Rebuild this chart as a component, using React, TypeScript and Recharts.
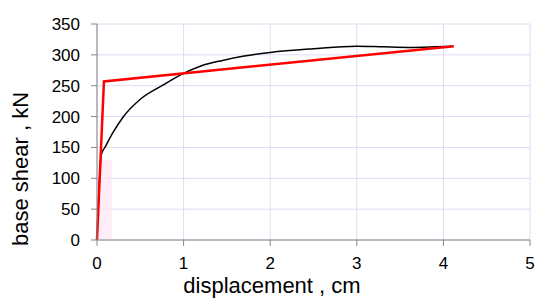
import {
  LineChart,
  Line,
  XAxis,
  YAxis,
  CartesianGrid,
  ReferenceArea,
  Label,
} from "recharts";

const xTicks = [0, 1, 2, 3, 4, 5];
const yTicks = [0, 50, 100, 150, 200, 250, 300, 350];

// pushover curve (black)
const pushoverX = [0, 0.05, 0.1, 0.18, 0.3, 0.5, 0.75, 1.0, 1.2, 1.45, 1.7, 2.0, 2.5, 3.0, 3.3, 3.6, 3.9, 4.1];
const pushoverY = [0, 138, 152, 173, 199, 228, 250, 270, 282, 291, 298, 304, 310, 314, 313, 312, 313, 314];

// bilinear idealisation (red)
const bilinearX = [0, 0.08, 4.12];
const bilinearY = [0, 257, 314];

const pushover = pushoverX.map((x, i) => ({ x, y: pushoverY[i] }));
const bilinear = bilinearX.map((x, i) => ({ x, y: bilinearY[i] }));

const font = "'Liberation Sans', Arial, sans-serif";
const axisColor = "#868686";

export default function App() {
  return (
    <div style={{ position: "absolute", left: 0, top: 0, background: "#fff" }}>
      <LineChart
        width={550}
        height={307}
        margin={{ top: 24, right: 20, bottom: 0, left: 0 }}
      >
        <CartesianGrid stroke="#dcdcf4" strokeWidth={1} />
        <ReferenceArea x1={0.02} x2={0.17} y1={0} y2={130} fill="#fde6f4" fillOpacity={0.7} stroke="none" />
        <XAxis
          type="number"
          dataKey="x"
          domain={[0, 5]}
          ticks={xTicks}
          height={67}
          stroke={axisColor}
          tickSize={6}
          tickMargin={11}
          tick={{ fill: "#000", fontSize: 17, fontFamily: font }}
          allowDuplicatedCategory={false}
        >
          <Label
            content={() => (
              <text x={272} y={293} textAnchor="middle" fontSize={22} fontFamily={font} fill="#000">
                displacement , cm
              </text>
            )}
          />
        </XAxis>
        <YAxis
          type="number"
          dataKey="y"
          domain={[0, 350]}
          ticks={yTicks}
          width={97}
          stroke={axisColor}
          tickSize={6}
          tickMargin={11}
          tick={{ fill: "#000", fontSize: 17, fontFamily: font }}
        >
          <Label
            content={() => (
              <text
                x={20}
                y={169}
                transform="rotate(-90 20 169)"
                textAnchor="middle"
                dominantBaseline="central"
                fontSize={22}
                fontFamily={font}
                fill="#000"
              >
                base shear , kN
              </text>
            )}
          />
        </YAxis>
        <Line
          data={pushover}
          dataKey="y"
          type="monotone"
          stroke="#000"
          strokeWidth={1.5}
          dot={false}
          isAnimationActive={false}
        />
        <Line
          data={bilinear}
          dataKey="y"
          type="linear"
          stroke="#ff0000"
          strokeWidth={2.5}
          dot={false}
          isAnimationActive={false}
        />
      </LineChart>
    </div>
  );
}
